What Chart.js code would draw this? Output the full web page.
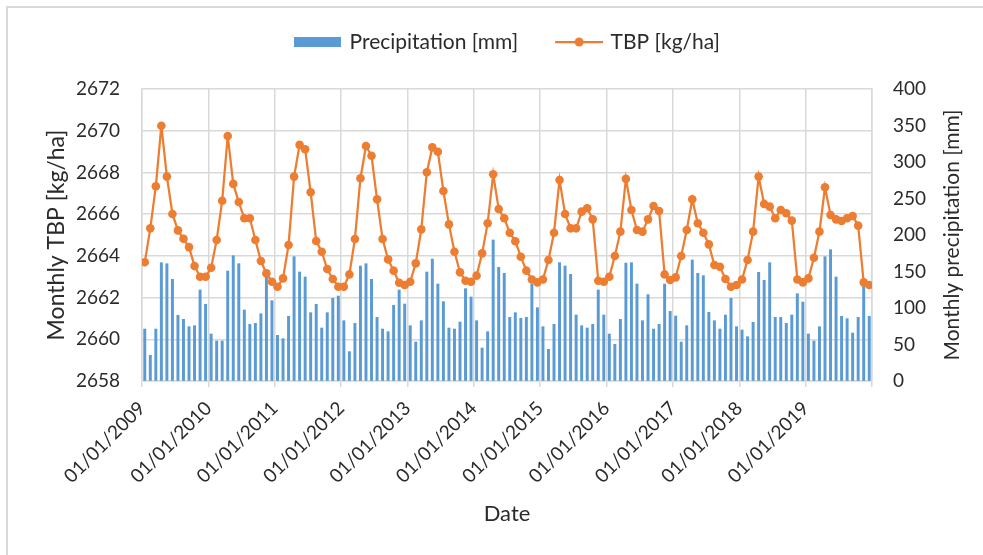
<!DOCTYPE html>
<html><head><meta charset="utf-8">
<script src="https://cdn.jsdelivr.net/npm/chart.js@4.4.1/dist/chart.umd.min.js"></script>
<style>
html,body{margin:0;padding:0;background:#fff;}
#wrap{position:relative;width:983px;height:555px;overflow:hidden;}
#frame{position:absolute;left:6px;top:6px;width:1000px;height:600px;border-left:2px solid #d9d9d9;border-top:2px solid #d9d9d9;}
canvas{position:absolute;left:0;top:0;}
</style></head><body>
<div id="wrap"><div id="frame"></div><canvas id="c" width="983" height="555"></canvas></div>
<script>
// ---- data ----
const years = [2009, 2010, 2011, 2012, 2013, 2014, 2015, 2016, 2017, 2018, 2019];
const monthNames = ['01','02','03','04','05','06','07','08','09','10','11','12'];
const xTickLabels = ['01/01/2009','01/01/2010','01/01/2011','01/01/2012','01/01/2013','01/01/2014',
                     '01/01/2015','01/01/2016','01/01/2017','01/01/2018','01/01/2019'];
const leftTicks = [2658, 2660, 2662, 2664, 2666, 2668, 2670, 2672];
const rightTicks = [0, 50, 100, 150, 200, 250, 300, 350, 400];

const precipitation = [
  71.2, 35.2, 71.2, 162.1, 160.7, 139.3, 90.0, 84.5, 74.4, 75.8, 124.7, 105.1,
  64.4, 54.8, 54.8, 150.7, 171.7, 160.7, 97.3, 77.6, 79.0, 92.2, 142.0, 110.0,
  62.6, 58.0, 88.6, 170.3, 149.3, 142.5, 93.6, 105.1, 72.6, 93.6, 113.3, 116.4,
  82.6, 40.2, 79.0, 157.5, 160.7, 139.3, 87.2, 71.2, 67.6, 103.7, 124.7, 105.5,
  75.8, 53.4, 82.6, 149.3, 167.1, 132.9, 108.7, 72.6, 71.2, 80.8, 126.5, 115.1,
  82.6, 45.2, 67.6, 193.2, 155.7, 147.5, 87.2, 93.6, 85.9, 87.2, 132.9, 100.4,
  74.4, 43.4, 77.6, 162.1, 157.5, 146.1, 90.4, 75.8, 72.6, 77.6, 124.7, 90.4,
  64.4, 50.2, 84.5, 161.6, 162.1, 132.9, 82.6, 118.3, 71.2, 77.6, 132.9, 95.4,
  89.0, 53.4, 75.8, 165.8, 147.5, 144.3, 94.1, 82.6, 71.2, 90.4, 113.3, 74.4,
  69.9, 60.7, 80.4, 148.9, 137.9, 162.1, 87.2, 87.2, 79.0, 90.4, 119.6, 108.2,
  64.4, 54.8, 74.4, 170.3, 179.9, 142.5, 88.6, 85.4, 65.8, 87.2, 134.7, 88.6
];
const tbp = [
  2663.69, 2665.32, 2667.34, 2670.24, 2667.80, 2666.01, 2665.22, 2664.82, 2664.42, 2663.51, 2663.00, 2663.00,
  2663.43, 2664.76, 2666.64, 2669.75, 2667.45, 2666.58, 2665.80, 2665.80, 2664.76, 2663.75, 2663.16, 2662.76,
  2662.52, 2662.92, 2664.52, 2667.80, 2669.32, 2669.11, 2667.05, 2664.71, 2664.20, 2663.37, 2662.89, 2662.52,
  2662.52, 2663.11, 2664.81, 2667.72, 2669.27, 2668.80, 2666.71, 2664.81, 2663.83, 2663.29, 2662.71, 2662.60,
  2662.76, 2663.64, 2665.27, 2668.01, 2669.20, 2668.99, 2667.11, 2665.51, 2664.20, 2663.21, 2662.81, 2662.76,
  2663.05, 2664.12, 2665.56, 2667.91, 2666.25, 2665.80, 2665.11, 2664.70, 2663.96, 2663.29, 2662.87, 2662.73,
  2662.87, 2663.80, 2665.11, 2667.64, 2666.01, 2665.32, 2665.32, 2666.12, 2666.28, 2665.75, 2662.81, 2662.76,
  2663.00, 2663.99, 2665.16, 2667.69, 2666.20, 2665.24, 2665.16, 2665.75, 2666.39, 2666.15, 2663.11, 2662.84,
  2662.97, 2663.99, 2665.24, 2666.71, 2665.56, 2665.11, 2664.55, 2663.56, 2663.48, 2662.89, 2662.52, 2662.60,
  2662.87, 2663.80, 2665.16, 2667.80, 2666.49, 2666.36, 2665.80, 2666.20, 2666.04, 2665.69, 2662.87, 2662.73,
  2662.92, 2663.91, 2665.16, 2667.29, 2665.96, 2665.75, 2665.67, 2665.80, 2665.91, 2665.45, 2662.73, 2662.60
];

// months (categories): one per month, Jan 2009 .. Dec 2019
const months = [];
years.forEach(y => monthNames.forEach(m => months.push(y + '-' + m)));

// ---- styles ----
const BLUE = '#5b9bd5', ORANGE = '#ed7d31', GRID = '#d9d9d9', TXT = '#2b2b2b';
const FONT = 'Lato';
const LEGEND_FONT = 21, LEGEND_PAD = 40, LEGEND_CENTER_Y = 42;

function legendIcon(kind) {
  const c = document.createElement('canvas');
  c.width = 50; c.height = 12;
  const g = c.getContext('2d');
  if (kind === 'bar') {
    g.fillStyle = BLUE; g.fillRect(1, 1, 47, 10);
  } else {
    g.strokeStyle = ORANGE; g.lineWidth = 2.25;
    g.beginPath(); g.moveTo(1, 6); g.lineTo(49, 6); g.stroke();
    g.fillStyle = ORANGE; g.beginPath(); g.arc(25, 6, 4.5, 0, Math.PI * 2); g.fill();
  }
  return c;
}
const icons = [legendIcon('bar'), legendIcon('line')];

const LEFT_PAD = 43, RIGHT_PAD = 19, TOP_PAD = 0, BOTTOM_PAD = 28;
const PLOT_TOP = 89, PLOT_BOTTOM = 381, PLOT_LEFT = 142, PLOT_RIGHT = 872;

const legendHeightPlugin = {
  id: 'legendHeight',
  beforeInit(chart) {
    const lg = chart.legend;
    if (!lg) return;
    const fit = lg.fit;
    lg.fit = function () { fit.call(this); this.height = PLOT_TOP - TOP_PAD; };
  },
  afterLayout(chart) {
    const lg = chart.legend;
    if (!lg) return;
    const newTop = LEGEND_CENTER_Y - LEGEND_PAD - LEGEND_FONT / 2;
    const dy = newTop - lg.top;
    lg.top += dy; lg.bottom += dy;
    lg.left += 5; lg.right += 5;
  }
};

const rightTitlePlugin = {
  id: 'rightTitle',
  afterDraw(chart) {
    const ctx = chart.ctx;
    const a = chart.chartArea;
    ctx.save();
    ctx.translate(952, (a.top + a.bottom) / 2);
    ctx.rotate(-Math.PI / 2);
    ctx.textAlign = 'center';
    ctx.textBaseline = 'middle';
    ctx.fillStyle = TXT;
    ctx.font = '21px ' + FONT;
    ctx.fillText('Monthly precipitation [mm]', 0, 0);
    ctx.restore();
  }
};

Chart.register(legendHeightPlugin);

new Chart(document.getElementById('c'), {
  data: {
    datasets: [
      {
        type: 'bar',
        label: 'Precipitation [mm]',
        data: months.map((m, i) => ({ x: i + 0.5, y: precipitation[i] })),
        backgroundColor: BLUE,
        barThickness: 2.3,
        yAxisID: 'yR',
        order: 2
      },
      {
        type: 'line',
        label: 'TBP [kg/ha]',
        data: months.map((m, i) => ({ x: i + 0.5, y: tbp[i] })),
        borderColor: ORANGE,
        backgroundColor: ORANGE,
        borderWidth: 2.25,
        pointRadius: 4.3,
        pointBorderWidth: 0,
        pointBackgroundColor: ORANGE,
        tension: 0,
        yAxisID: 'yL',
        order: 1
      }
    ]
  },
  options: {
    responsive: false,
    animation: false,
    devicePixelRatio: 1,
    layout: { padding: { left: LEFT_PAD, right: RIGHT_PAD, top: TOP_PAD, bottom: BOTTOM_PAD } },
    plugins: {
      tooltip: { enabled: false },
      legend: {
        position: 'top',
        labels: {
          usePointStyle: true,
          pointStyleWidth: 42,
          padding: LEGEND_PAD,
          color: TXT,
          font: { family: FONT, size: LEGEND_FONT },
          generateLabels: (chart) => chart.data.datasets.map((ds, i) => ({
            text: ds.label,
            pointStyle: icons[i],
            fillStyle: i === 0 ? BLUE : ORANGE,
            strokeStyle: i === 0 ? BLUE : ORANGE,
            lineWidth: 0,
            hidden: false,
            datasetIndex: i,
            fontColor: TXT
          }))
        }
      }
    },
    scales: {
      x: {
        type: 'linear',
        offset: false,
        min: 0,
        max: months.length,
        afterFit(s) { s.height = 555 - BOTTOM_PAD - PLOT_BOTTOM; },
        afterBuildTicks(s) {
          s.ticks = xTickLabels.map((t, k) => ({ value: k * 12 })).concat([{ value: months.length }]);
        },
        ticks: {
          autoSkip: false,
          minRotation: 45,
          maxRotation: 45,
          padding: 10,
          color: TXT,
          font: { family: FONT, size: 19 },
          callback: (v) => xTickLabels[v / 12] || ''
        },
        grid: { color: GRID, lineWidth: 1.5, tickLength: 6, drawTicks: true, offset: false },
        border: { color: GRID, width: 1.5 },
        title: { display: true, text: 'Date', color: TXT, font: { family: FONT, size: 22 }, padding: 0 }
      },
      yL: {
        type: 'linear',
        position: 'left',
        min: 2658,
        max: 2672,
        afterFit(s) { s.width = PLOT_LEFT - LEFT_PAD; },
        afterBuildTicks(s) { s.ticks = leftTicks.map(v => ({ value: v })); },
        ticks: { padding: 22, color: TXT, font: { family: FONT, size: 19 }, callback: (v) => String(v) },
        grid: { color: GRID, lineWidth: 1.5, drawTicks: false },
        border: { color: GRID, width: 1.5 },
        title: { display: true, text: 'Monthly TBP [kg/ha]', color: TXT, font: { family: FONT, size: 23 }, padding: 0 }
      },
      yR: {
        type: 'linear',
        position: 'right',
        min: 0,
        max: 400,
        afterFit(s) { s.width = 983 - RIGHT_PAD - PLOT_RIGHT; },
        afterBuildTicks(s) { s.ticks = rightTicks.map(v => ({ value: v })); },
        ticks: { padding: 21, color: TXT, font: { family: FONT, size: 19 }, callback: (v) => String(v) },
        grid: { drawOnChartArea: false, drawTicks: false },
        border: { color: GRID, width: 1.5 }
      }
    }
  },
  plugins: [rightTitlePlugin]
});
</script>
</body></html>
